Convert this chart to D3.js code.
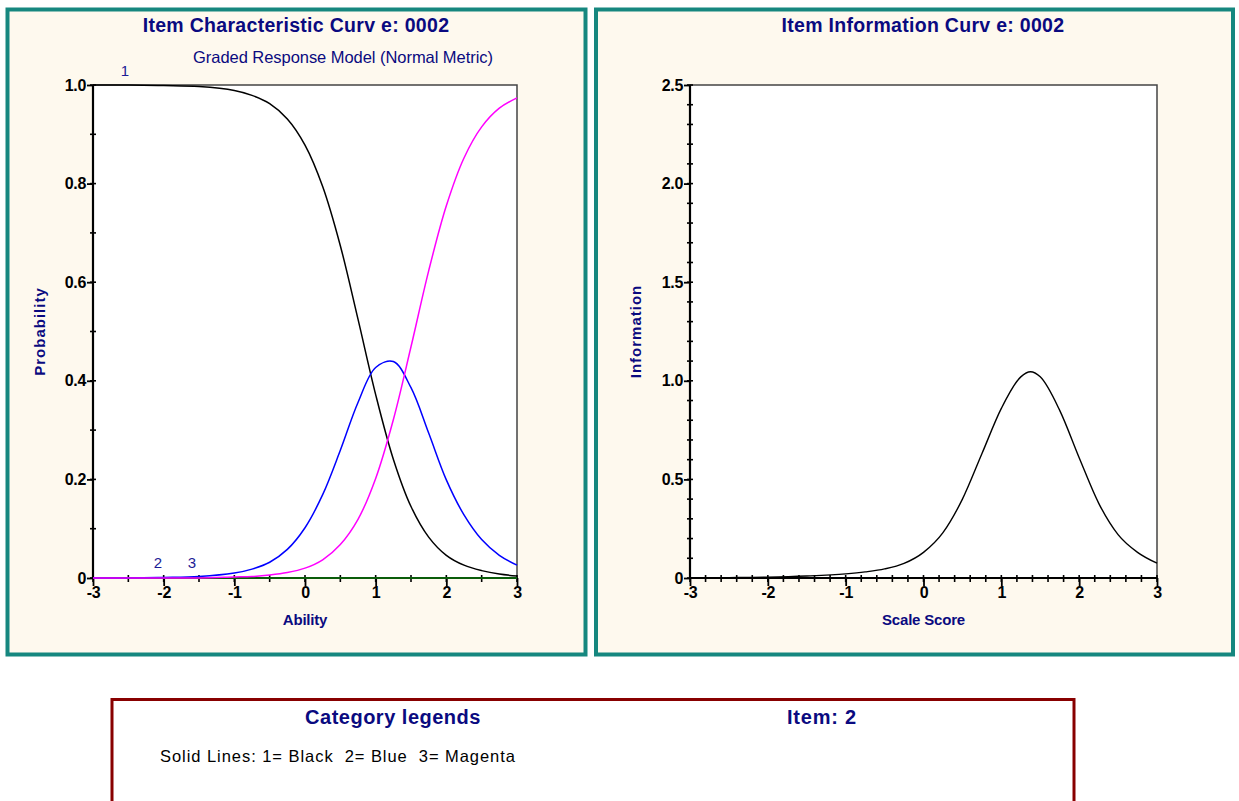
<!DOCTYPE html>
<html><head><meta charset="utf-8">
<script src="https://cdn.jsdelivr.net/npm/d3@7"></script>
<style>
body{margin:0;background:#fff;}
svg{display:block;font-family:Arial,"Liberation Sans",sans-serif;}
</style>
</head><body>
<svg id="c" width="1239" height="801"></svg>
<script>
// ---------- data ----------
const theta = [-3,-2.5,-2,-1.5,-1,-0.75,-0.5,-0.25,0,0.25,0.5,0.75,1,1.25,1.5,1.75,2,2.25,2.5,2.75,3];
const pCat1 = [1.000,1.000,0.999,0.997,0.989,0.979,0.962,0.931,0.878,0.794,0.674,0.525,0.372,0.241,0.145,0.083,0.046,0.026,0.015,0.008,0.004];
const pCat2 = [0.000,0.000,0.001,0.003,0.010,0.018,0.032,0.058,0.102,0.169,0.259,0.356,0.427,0.439,0.386,0.294,0.199,0.128,0.078,0.046,0.026];
const pCat3 = [0.000,0.000,0.000,0.000,0.002,0.003,0.006,0.011,0.020,0.037,0.068,0.119,0.202,0.321,0.469,0.623,0.755,0.852,0.915,0.953,0.974];
const infoTheta = [-3,-2.5,-2,-1.5,-1,-0.75,-0.5,-0.25,0,0.25,0.5,0.75,1,1.25,1.375,1.5,1.75,2,2.25,2.5,2.75,3];
const infoValues = [0.001,0.002,0.004,0.010,0.021,0.031,0.046,0.074,0.130,0.230,0.400,0.630,0.860,1.020,1.046,1.020,0.850,0.610,0.380,0.220,0.130,0.075];

const xTicks = [-3,-2,-1,0,1,2,3];
const xTickLabels = ["-3","-2","-1","0","1","2","3"];
const probTicks = [0,0.2,0.4,0.6,0.8,1.0];
const probTickLabels = ["0","0.2","0.4","0.6","0.8","1.0"];
const infoTicks = [0,0.5,1,1.5,2,2.5];
const infoTickLabels = ["0","0.5","1.0","1.5","2.0","2.5"];

const categoryNames = ["1","2","3"];
const categoryColors = ["#000000","#0000ff","#ff00ff"];
const legendText = "Solid Lines: 1= Black  2= Blue  3= Magenta";

// ---------- drawing ----------
const svg = d3.select("#c");
const NAVY = "#0a0a80";
const TEAL = "#16877f";

function panel(cfg){
  const g = svg.append("g");
  g.append("rect").attr("x",cfg.px).attr("y",cfg.py).attr("width",cfg.pw).attr("height",cfg.ph)
    .attr("fill","#fef9ee").attr("stroke",TEAL).attr("stroke-width",4);
  g.append("text").attr("x",cfg.titleX).attr("y",32).attr("text-anchor","middle")
    .attr("font-size",19.5).attr("font-weight","bold").attr("fill",NAVY).attr("letter-spacing",0.3)
    .style("white-space","pre").text(cfg.title);

  const x = d3.scaleLinear().domain([-3,3]).range([cfg.l,cfg.r]);
  const y = d3.scaleLinear().domain(cfg.yDomain).range([cfg.b,cfg.t]);

  g.append("rect").attr("x",cfg.l).attr("y",cfg.t).attr("width",cfg.r-cfg.l).attr("height",cfg.b-cfg.t)
    .attr("fill","#fff");
  g.append("path").attr("d",`M${cfg.l},${cfg.t}H${cfg.r}V${cfg.b}`).attr("fill","none")
    .attr("stroke","#444").attr("stroke-width",1.5);

  // minor ticks (crossing)
  const yMinor = d3.range(cfg.yDomain[0], cfg.yDomain[1]+1e-9, cfg.yMinor);
  g.append("g").selectAll("line").data(yMinor).join("line")
    .attr("x1",cfg.l-3).attr("x2",cfg.l+3).attr("y1",d=>y(d)).attr("y2",d=>y(d))
    .attr("stroke","#000").attr("stroke-width",1.6);
  const xMinor = d3.range(-3, 3+1e-9, cfg.xMinor);
  g.append("g").selectAll("line").data(xMinor).join("line")
    .attr("x1",d=>x(d)).attr("x2",d=>x(d)).attr("y1",cfg.b-3).attr("y2",cfg.b+4)
    .attr("stroke","#000").attr("stroke-width",1.6);

  // major axes
  const yAxis = d3.axisLeft(y).tickValues(cfg.yTicks).tickFormat((d,i)=>cfg.yLabels[i]).tickSize(6).tickPadding(1);
  const ya = g.append("g").attr("transform",`translate(${cfg.l},0)`).call(yAxis);
  const xAxis = d3.axisBottom(x).tickValues(xTicks).tickFormat((d,i)=>xTickLabels[i]).tickSize(8).tickPadding(1);
  const xa = g.append("g").attr("transform",`translate(0,${cfg.b})`).call(xAxis);
  [ya,xa].forEach(a=>{
    a.select(".domain").attr("stroke","#000").attr("stroke-width",2.2);
    a.selectAll(".tick line").attr("stroke","#000").attr("stroke-width",1.8);
    a.selectAll(".tick text").attr("font-size",16).attr("font-weight","bold").attr("fill","#000")
      .attr("font-family","Arial, 'Liberation Sans', sans-serif").attr("letter-spacing",-0.3);
  });
  ya.select(".domain").attr("d",`M0,${cfg.b}V${cfg.t}`);
  xa.select(".domain").attr("d",`M${cfg.l},0H${cfg.r}`);

  // axis titles
  g.append("text").attr("x",(cfg.l+cfg.r)/2).attr("y",625).attr("text-anchor","middle")
    .attr("font-size",15).attr("font-weight","bold").attr("fill",NAVY).attr("letter-spacing",-0.2).text(cfg.xTitle);
  g.append("text").attr("transform",`translate(${cfg.yTitleX},${(cfg.t+cfg.b)/2}) rotate(-90)`)
    .attr("text-anchor","middle").attr("font-size",15).attr("font-weight","bold").attr("fill",NAVY)
    .attr("letter-spacing",1).text(cfg.yTitle);
  return {g,x,y};
}

// Left: item characteristic curves
const L = panel({px:7.5,py:9.5,pw:578,ph:645,titleX:296,title:"Item Characteristic Curv e: 0002",
  l:93,r:517,t:85,b:578,yDomain:[0,1],yMinor:0.1,xMinor:0.5,yTicks:probTicks,yLabels:probTickLabels,
  xTitle:"Ability",yTitle:"Probability",yTitleX:45});
L.g.append("text").attr("x",343).attr("y",63).attr("text-anchor","middle").attr("font-size",16.5)
  .attr("fill",NAVY).attr("letter-spacing",-0.05).text("Graded Response Model (Normal Metric)");

const lineL = d3.line().x((d,i)=>L.x(theta[i])).y(d=>L.y(d)).curve(d3.curveCatmullRom.alpha(0.5));
L.g.append("path").datum([0,0]).attr("d",d3.line().x((d,i)=>L.x(i?3:-3)).y(d=>L.y(d)))
  .attr("stroke","#0a5c0a").attr("stroke-width",2.2);
[pCat1,pCat2,pCat3].forEach((s,k)=>{
  L.g.append("path").datum(s).attr("d",lineL).attr("fill","none")
    .attr("stroke",categoryColors[k]).attr("stroke-width",1.5);
});
const catLabelPos = [[-2.55,1.0],[-2.08,0],[-1.6,0]];
const catLabelDy = [-9,-10,-10];
categoryNames.forEach((n,k)=>{
  L.g.append("text").attr("x",L.x(catLabelPos[k][0])).attr("y",L.y(catLabelPos[k][1])+catLabelDy[k])
    .attr("text-anchor","middle").attr("font-size",15).attr("fill","#1c1c96").text(n);
});

// Right: item information
const R = panel({px:596,py:9.5,pw:637,ph:645,titleX:923,title:"Item Information Curv e: 0002",
  l:690,r:1157,t:85,b:578,yDomain:[0,2.5],yMinor:0.1,xMinor:0.2,yTicks:infoTicks,yLabels:infoTickLabels,
  xTitle:"Scale Score",yTitle:"Information",yTitleX:641});
const lineR = d3.line().x((d,i)=>R.x(infoTheta[i])).y(d=>R.y(d)).curve(d3.curveMonotoneX);
R.g.append("path").datum(infoValues).attr("d",lineR).attr("fill","none").attr("stroke","#000").attr("stroke-width",1.4);

// Legend box
const lg = svg.append("g");
lg.append("rect").attr("x",112).attr("y",699.5).attr("width",962).attr("height",130)
  .attr("fill","#fff").attr("stroke","#880000").attr("stroke-width",3);
lg.append("text").attr("x",393).attr("y",724).attr("text-anchor","middle").attr("font-size",20)
  .attr("font-weight","bold").attr("fill",NAVY).attr("letter-spacing",0.5).text("Category legends");
lg.append("text").attr("x",822).attr("y",724).attr("text-anchor","middle").attr("font-size",20)
  .attr("font-weight","bold").attr("fill",NAVY).attr("letter-spacing",0.8).text("Item: 2");
lg.append("text").attr("x",160).attr("y",762).attr("font-size",16.5).attr("fill","#000")
  .attr("letter-spacing",0.95).style("white-space","pre").text(legendText);
</script>
</body></html>
